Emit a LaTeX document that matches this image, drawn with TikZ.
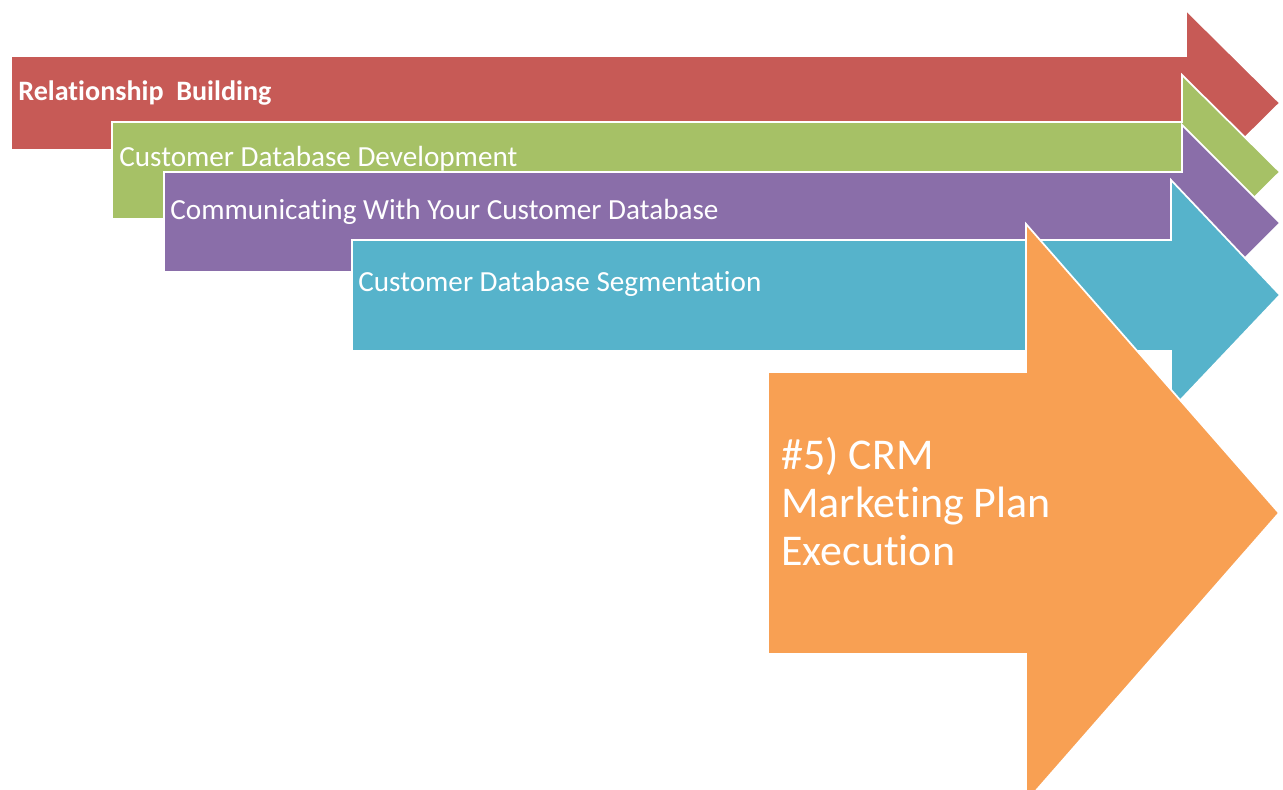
\documentclass[tikz,border=0pt]{standalone}
\usepackage{fontspec}
\setmainfont{Carlito}[Ligatures=NoCommon]
\usepackage{tikz}

\definecolor{relred}{HTML}{C75A56}
\definecolor{dbgreen}{HTML}{A6C166}
\definecolor{compurple}{HTML}{8A6EA9}
\definecolor{segblue}{HTML}{56B3CB}
\definecolor{planorange}{HTML}{F8A053}

\tikzset{
  stage/.style={draw=white, line width=1pt, line join=miter},
  stagetext/.style={text=white, inner sep=0, anchor=base west, font=\fontsize{16.6}{19}\selectfont}
}

\begin{document}
\begin{tikzpicture}[x=0.02cm, y=-0.02cm]
	% Canvas:
	\useasboundingbox (0,0) rectangle (1283,790);
	\clip (0,0) rectangle (1283,790);
	% Arrows, back to front:
	\fill[stage, fill=relred] (11,56) -- (1186,56) -- (1186,10) -- (1280,103) -- (1186,196) -- (1186,150) -- (11,150) -- cycle;
	\fill[stage, fill=dbgreen] (112,122) -- (1182,122) -- (1182,75) -- (1280,172) -- (1182,269) -- (1182,219) -- (112,219) -- cycle;
	\fill[stage, fill=compurple] (164,172) -- (1182,172) -- (1182,125) -- (1280,223) -- (1182,321) -- (1182,272) -- (164,272) -- cycle;
	\fill[stage, fill=segblue] (352,240) -- (1171,240) -- (1171,180) -- (1280,295) -- (1171,410) -- (1171,351) -- (352,351) -- cycle;
	\fill[stage, fill=planorange] (768,372) -- (1026,372) -- (1026,224) -- (1279,513) -- (1026,802) -- (1026,654) -- (768,654) -- cycle;
	% Labels:
	\node[stagetext, font=\fontsize{16}{19}\selectfont\bfseries] (Rel) at (18,101) {Relationship\ \ Building};
	\node[stagetext] (Dev) at (119,167) {Customer Database Development};
	\node[stagetext] (Com) at (170,220) {Communicating With Your Customer Database};
	\node[stagetext] (Seg) at (358,292) {Customer Database Segmentation};
	% base of a multi-line node = last line
	\node[text=white, inner sep=0, anchor=base west, align=left, font=\fontsize{25}{27.2}\selectfont] (Plan) at (781,565) {\#5) CRM\\Marketing Plan\\Execution};
\end{tikzpicture}
\end{document}
